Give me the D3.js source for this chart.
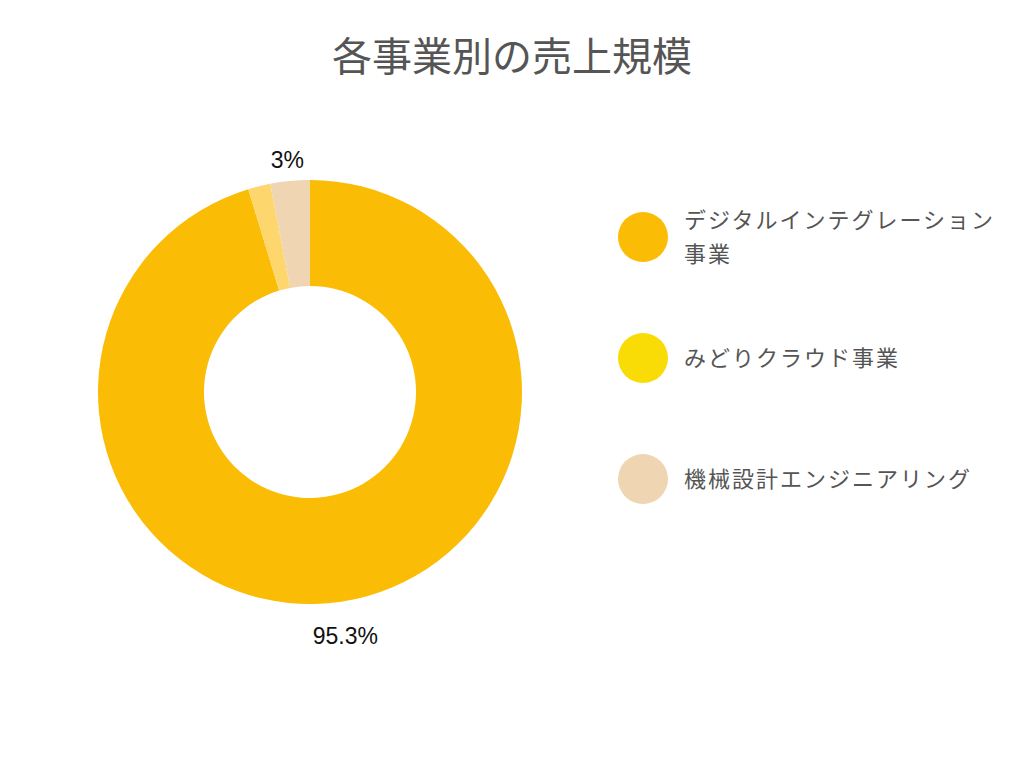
<!DOCTYPE html>
<html><head><meta charset="utf-8">
<script src="https://cdn.jsdelivr.net/npm/d3@7"></script>
<style>
html,body{margin:0;padding:0;background:#fff;}
text{font-family:"Noto Sans CJK JP","Noto Sans",sans-serif;}
</style></head>
<body>
<svg id="chart" width="1024" height="768"></svg>
<script>
const title = "各事業別の売上規模";
const categories = ["デジタルインテグレーション事業", "みどりクラウド事業", "機械設計エンジニアリング"];
const values = [95.3, 1.7, 3.0];
const valueLabels = ["95.3%", "", "3%"];
const sliceColors = ["#FABC05", "#FDD76E", "#EFD5B1"];
const legendColors = ["#FABC05", "#F9DC06", "#EFD5B1"];

const svg = d3.select("#chart");
const cx = 310, cy = 392, outerR = 212, innerR = 106, labelR = 240;

svg.append("text").attr("x", 512).attr("y", 57).attr("dy", "0.35em")
  .attr("text-anchor", "middle").attr("font-size", 40).attr("fill", "#555")
  .text(title);

const pie = d3.pie().sort(null).value(d => d.v);
const data = categories.map((c, i) => ({c, v: values[i], i}));
const arcs = pie(data);
const arc = d3.arc().innerRadius(innerR).outerRadius(outerR);
const g = svg.append("g").attr("transform", `translate(${cx},${cy})`);
g.selectAll("path").data(arcs).join("path")
  .attr("d", arc).attr("fill", d => sliceColors[d.data.i]);

g.selectAll("text.lbl").data(arcs.filter(d => valueLabels[d.data.i])).join("text")
  .attr("class", "lbl")
  .attr("x", d => labelR * Math.sin((d.startAngle + d.endAngle) / 2))
  .attr("y", d => -labelR * Math.cos((d.startAngle + d.endAngle) / 2) + 7)
  .attr("dy", "0.35em").attr("text-anchor", "middle")
  .style("font-family", "'Liberation Sans', Arial, sans-serif")
  .attr("font-size", 23).attr("fill", "#111")
  .text(d => valueLabels[d.data.i]);

const legendY = d3.scalePoint().domain(categories).range([237, 479]);
const lg = svg.append("g");
const maxW = 330, lineH = 34;
categories.forEach((c, i) => {
  const y = legendY(c);
  lg.append("circle").attr("cx", 643).attr("cy", y).attr("r", 25).attr("fill", legendColors[i]);
  const t = lg.append("text").attr("x", 684).attr("font-size", 22)
    .attr("letter-spacing", 2).attr("fill", "#555");
  const lines = [];
  let cur = "";
  const probe = t.append("tspan");
  for (const ch of c) {
    probe.text(cur + ch);
    if (probe.node().getComputedTextLength() > maxW && cur) { lines.push(cur); cur = ch; }
    else cur += ch;
  }
  lines.push(cur);
  probe.remove();
  const y0 = y - (lines.length - 1) * lineH / 2;
  lines.forEach((l, k) => {
    t.append("tspan").attr("x", 684).attr("y", y0 + k * lineH).attr("dy", "0.35em").text(l);
  });
});
</script>
</body></html>
